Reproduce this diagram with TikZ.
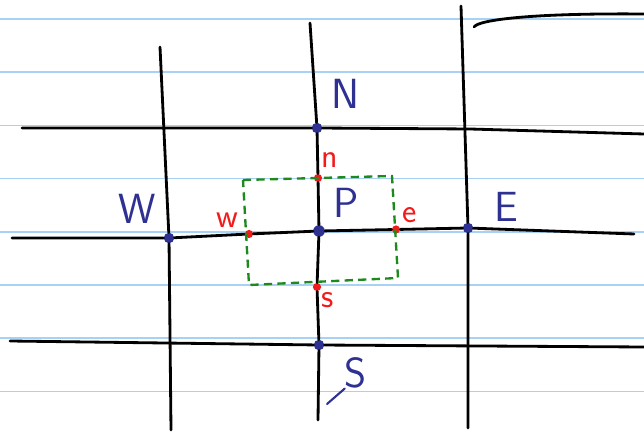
\documentclass[tikz,border=0pt]{standalone}
\usetikzlibrary{positioning}
\definecolor{Rule}{HTML}{A9D0F5}
\definecolor{Ink}{HTML}{2E3192}
\definecolor{Face}{HTML}{F21A1A}
\definecolor{Cell}{HTML}{1E8A1E}
\tikzset{rule/.style={draw=Rule,line width=1.3pt},grid/.style={draw=black,line width=2.4pt,line cap=round,line join=round},cell/.style={draw=Cell,line width=2pt,dash pattern=on 7pt off 4.5pt},centre/.style={circle,fill=Ink,minimum size=9pt,inner sep=0pt},facept/.style={circle,fill=Face,minimum size=7pt,inner sep=0pt},biglabel/.style={text=Ink,font=\sffamily\fontsize{36}{36}\selectfont,inner sep=0pt},smalllabel/.style={text=Face,font=\sffamily\fontsize{29}{29}\selectfont,inner sep=0pt}}

\begin{document}
\begin{tikzpicture}[x=0.03cm,y=-0.03cm]
      \useasboundingbox (0,0) rectangle (644,433);
      % ruled paper
      \foreach \k in {0,...,7}{\draw[rule](0,19+53.2*\k)--(644,19+53.2*\k);}
      % grid points
      \node[centre](N) at (317,128){};
      \node[centre](W) at (169,238){};
      \node[centre,minimum size=10pt](P) at (319,231){};
      \node[centre](E) at (468,228){};
      \node[centre](S) at (319,345){};
      \node[facept](n) at (318,178){};
      \node[facept](w) at (249,234){};
      \node[facept](e) at (396,229.5){};
      \node[facept](s) at (317,287){};
      % line ends
      \coordinate(wtop) at (160,47);\coordinate(wbot) at (171,430);
      \coordinate(ptop) at (310,23);\coordinate(pbot) at (318,420);
      \coordinate(etop) at (461,6);\coordinate(ebot) at (468,428);
      \coordinate(nleft) at (22,128);\coordinate(nright) at (644,134);
      \coordinate(pleft) at (12,238);\coordinate(pright) at (634,234);
      \coordinate(sleft) at (10,341);\coordinate(sright) at (644,347);
      \coordinate(arcA) at (474,27);\coordinate(arcB) at (644,14);
      \draw[grid](wtop)--(W)--(wbot);
      \draw[grid](ptop)--(N)--(n)--(P)--(s)--(S)--(pbot);
      \draw[grid](etop)--(E)--(ebot);
      \draw[grid](nleft)--(N)--(470,129)--(nright);
      \draw[grid](pleft)--(W)--(w)--(P)--(e)--(E)--(pright);
      \draw[grid](sleft)--(S)--(sright);
      \draw[grid](arcA) .. controls (478,20) and (530,13) .. (arcB);
      % control volume
      \coordinate(c1) at (243,180);\coordinate(c2) at (392,176);
      \coordinate(c3) at (398,278);\coordinate(c4) at (249,285);
      \draw[cell](c1)--(c2)--(c3)--(c4)--cycle;
      % labels
      \node[biglabel](Nl) at (345,94){N};
      \node[biglabel](Wl) at (137,209){W};
      \node[biglabel](Pl) at (346,203){P};
      \node[biglabel](El) at (506,207){E};
      \node[biglabel](Sl) at (356,373){S};
      \coordinate(stail) at (327,404);
      \draw[draw=Ink,line width=1.8pt,line cap=round](stail)--(Sl.south west);
      \node[smalllabel](nl) at (330,160){n};
      \node[smalllabel](wl) at (227,220){w};
      \node[smalllabel](el) at (410,215){e};
      \node[smalllabel](sl) at (328,300){s};
    \end{tikzpicture}
\end{document}
